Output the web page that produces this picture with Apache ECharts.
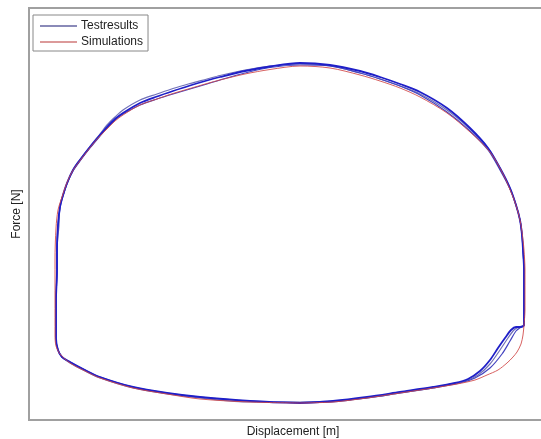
<!DOCTYPE html>
<html><head><meta charset="utf-8">
<script src="https://cdn.jsdelivr.net/npm/echarts@6/dist/echarts.min.js"></script>
<style>html,body{margin:0;padding:0;background:#fff}#c{width:541px;height:439px}</style>
</head><body><div id="c"></div>
<script>
// Displacement / Force pairs (arbitrary units)
const simulation = [
[14,-189],[47,-188],[81,-184],[114,-179],[147,-174],[171,-170],[189,-166],[201,-161],[212,-156],[221,-149],[227,-143],[231,-138],[235,-130],[237,-121],[238,-111],[239,-96],[239,-76],[239,-56],[238,-36],[237,-26],[235,-11],[232,2],[227,17],[217,40],[204,62],[184,82],[161,101],[134,117],[114,126],[94,133],[74,139],[44,146],[14,148],[-16,144.5],[-41,140],[-66,134],[-79,130.5],[-96,125.5],[-113,120.5],[-129,115],[-146,109],[-163,99],[-171,93],[-179,85],[-187,77],[-197,65],[-207,52],[-214,42],[-220,29],[-224,17],[-228,4],[-230,-14],[-231,-46],[-231,-86],[-231,-121],[-230,-132],[-226,-140],[-216,-149],[-201,-157],[-186,-164],[-153,-174],[-119,-180],[-86,-185],[-36,-188],[14,-189]
];
const testCycle1 = [
[14,-189],[47,-187],[81,-183],[114,-178],[147,-173],[169,-169],[182,-165],[194,-157],[204,-146],[212,-134],[219,-124],[225,-116],[230,-113],[235,-113],[238,-111],[238,-86],[238,-56],[237,-36],[236,-21],[234,-6],[230,9],[224,26],[214,46],[202,66],[184,86],[161,106],[134,122],[114,130],[94,137],[74,143],[44,149],[14,151],[-16,147.5],[-41,143],[-66,137],[-79,133.5],[-96,128.5],[-113,123],[-129,117.5],[-146,111],[-163,101],[-171,95],[-179,87],[-186,79],[-196,67],[-206,54],[-213,44],[-219,31],[-223,19],[-226,7],[-228,-11],[-229,-36],[-229,-56],[-230,-86],[-230,-124],[-228,-136],[-224,-143],[-216,-148],[-201,-156],[-186,-163],[-153,-173],[-119,-179],[-86,-183],[-36,-187],[14,-189]
];
const testCycle2 = [
[14,-188],[47,-187],[81,-184],[114,-179],[147,-174],[164,-170],[179,-167],[192,-161],[204,-150],[214,-136],[222,-124],[228,-116],[233,-113],[238,-111],[238,-86],[238,-56],[237,-36],[236,-21],[234,-6],[230,9],[224,26],[214,46],[202,66],[184,85],[161,104],[134,120],[114,128],[94,135],[74,141],[44,148],[14,150],[-16,148],[-41,144],[-66,138.5],[-79,135],[-96,130.5],[-113,125.5],[-129,120],[-146,114],[-163,104],[-171,97],[-179,89],[-186,80],[-195,69],[-205,56],[-212,46],[-218,33],[-222,21],[-226,9],[-227,-11],[-229,-36],[-229,-56],[-230,-86],[-230,-124],[-228,-136],[-224,-143],[-216,-149],[-201,-157],[-186,-164],[-153,-174],[-119,-180],[-86,-184],[-36,-188],[14,-188]
];
const testCycle3 = [
[14,-189],[47,-188],[81,-184],[114,-179],[147,-174],[174,-169],[189,-164],[204,-154],[216,-140],[224,-127],[230,-117],[235,-113],[238,-111],[238,-86],[238,-56],[237,-36],[236,-21],[234,-6],[230,9],[224,25],[214,44],[202,64],[184,83],[161,102],[134,119],[114,128],[94,135],[74,141],[44,148],[14,149],[-16,146.5],[-41,141],[-66,134],[-79,130],[-96,125],[-113,120],[-129,115],[-146,109],[-163,100],[-171,94],[-179,86],[-186,78],[-196,66],[-206,53],[-213,43],[-219,30],[-223,18],[-226,6],[-228,-11],[-229,-36],[-229,-56],[-230,-86],[-230,-124],[-228,-136],[-224,-143],[-216,-148],[-201,-156],[-186,-163],[-153,-173],[-119,-179],[-86,-183],[-36,-187],[14,-189]
];
const legendNames = ['Testresults','Simulations'];
const xName = 'Displacement [m]';
const yName = 'Force [N]';

const chart = echarts.init(document.getElementById('c'), null, {renderer:'canvas'});
const blue = '#1f1fc8';
const red = '#d04545';
function testSeries(data, color, w){
  return {name: legendNames[0], type:'line', data, showSymbol:false, smooth:0.3,
    lineStyle:{color, width:w}, itemStyle:{color}, silent:true, z:2};
}
chart.setOption({
  animation:false,
  grid:{left:29, top:8, right:-16, bottom:19, outerBoundsMode:'none', containLabel:false,
    show:true, borderColor:'#a0a0a0', borderWidth:2, backgroundColor:'#fff'},
  xAxis:{type:'value', min:-257, max:271, name:xName, nameLocation:'middle', nameGap:6,
    nameTextStyle:{fontFamily:'Liberation Sans', fontSize:12, color:'#222', verticalAlign:'top'},
    axisLine:{show:false}, axisTick:{show:false}, axisLabel:{show:false}, splitLine:{show:false}},
  yAxis:{type:'value', min:-206, max:206, name:yName, nameLocation:'middle', nameGap:6,
    nameTextStyle:{fontFamily:'Liberation Sans', fontSize:12, color:'#222', verticalAlign:'bottom'},
    axisLine:{show:false}, axisTick:{show:false}, axisLabel:{show:false}, splitLine:{show:false}},
  legend:{orient:'vertical', left:33, top:15, padding:[5,5,3,7], itemGap:4,
    backgroundColor:'#fff', borderColor:'#888', borderWidth:1, borderRadius:0,
    icon:'rect', itemWidth:37, itemHeight:2,
    textStyle:{fontFamily:'Liberation Sans', fontSize:12, color:'#222', padding:[0,0,0,-1]},
    data:[
      {name:legendNames[0], itemStyle:{color:'#8a8ab8'}},
      {name:legendNames[1], itemStyle:{color:'#dc9a9a'}}
    ]},
  series:[
    testSeries(testCycle2, '#7070b8', 1.2),
    testSeries(testCycle3, '#4545c0', 1.2),
    testSeries(testCycle1, blue, 1.8),
    {name: legendNames[1], type:'line', data: simulation, showSymbol:false, smooth:0.3,
      lineStyle:{color:red, width:1, opacity:0.85}, itemStyle:{color:red}, silent:true, z:3}
  ]
});
</script></body></html>
